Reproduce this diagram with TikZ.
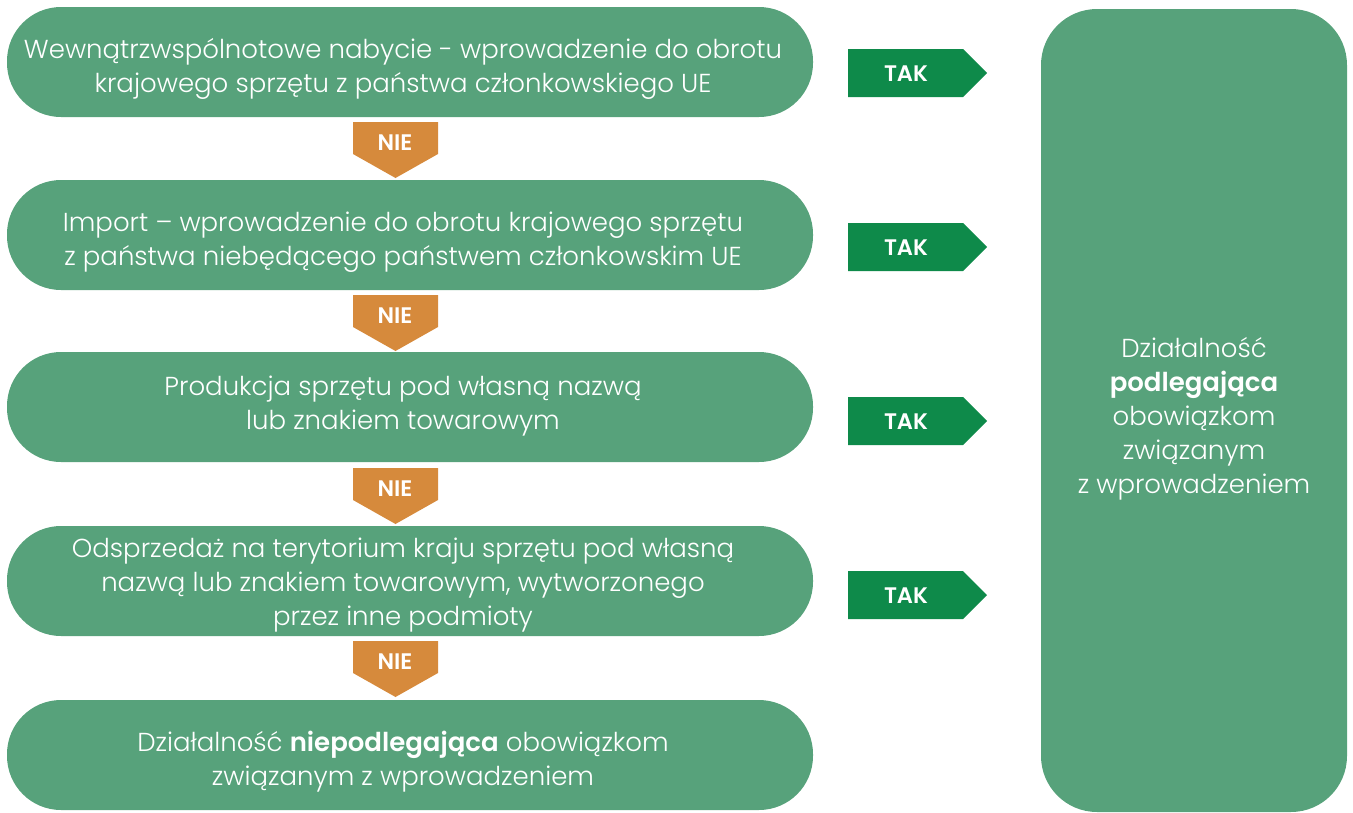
\documentclass[tikz,border=0pt]{standalone}
\usepackage{fontspec}
\setmainfont{Poppins}[UprightFont={Poppins Light},BoldFont={Poppins SemiBold}]
\definecolor{boxgreen}{HTML}{57A27B}
\definecolor{takgreen}{HTML}{0E8A4A}
\definecolor{nieorange}{HTML}{D68A3C}
\begin{document}
\begin{tikzpicture}[x=1pt,y=-1pt,
  pill/.style={fill=boxgreen,rounded corners=54pt,minimum width=806pt,minimum height=110pt,inner sep=0pt,draw=none},
  boxtext/.style={text=white,font=\fontsize{26}{34}\selectfont,align=center},
  tag/.style={text=white,font=\fontsize{22.5}{24}\selectfont\bfseries}]
\useasboundingbox (0,0) rectangle (1353,812);
% left boxes
\foreach \i/\y in {1/62,2/235,3/407,4/581,5/755}{
  \node[pill] (b\i) at (410,\y) {};
}
% right box
\fill[boxgreen,rounded corners=56pt] (1041,9) rectangle (1347,812);
\node[boxtext] (res) at (1194,419) {Działalność\\\textbf{podlegająca}\\obowiązkom\\związanym\\z wprowadzeniem};
% texts
\node[boxtext] (t1) at (403,69) {Wewnątrzwspólnotowe nabycie - wprowadzenie do obrotu\\krajowego sprzętu z państwa członkowskiego UE};
\node[boxtext] (t2) at (403,242) {Import – wprowadzenie do obrotu krajowego sprzętu\\z państwa niebędącego państwem członkowskim UE};
\node[boxtext] (t3) at (403,406) {Produkcja sprzętu pod własną nazwą\\lub znakiem towarowym};
\node[boxtext] (t4) at (403,585) {Odsprzedaż na terytorium kraju sprzętu pod własną\\nazwą lub znakiem towarowym, wytworzonego\\przez inne podmioty};
\node[boxtext] (t5) at (403,762) {Działalność \textbf{niepodlegająca} obowiązkom\\związanym z wprowadzeniem};
% NIE arrows
\foreach \i/\y in {1/122,2/295,3/468,4/641}{
  \fill[nieorange] (353,\y) -- (438,\y) -- (438,\y+32) -- (395.5,\y+56) -- (353,\y+32) -- cycle;
  \node[tag] (nie\i) at (395,\y+21) {NIE};
}
% TAK arrows
\foreach \i/\y in {1/73,2/247,3/421,4/595}{
  \fill[takgreen] (848,\y-24) -- (963,\y-24) -- (987,\y) -- (963,\y+24) -- (848,\y+24) -- cycle;
  \node[tag] (tak\i) at (906,\y+1) {TAK};
}
\end{tikzpicture}
\end{document}
